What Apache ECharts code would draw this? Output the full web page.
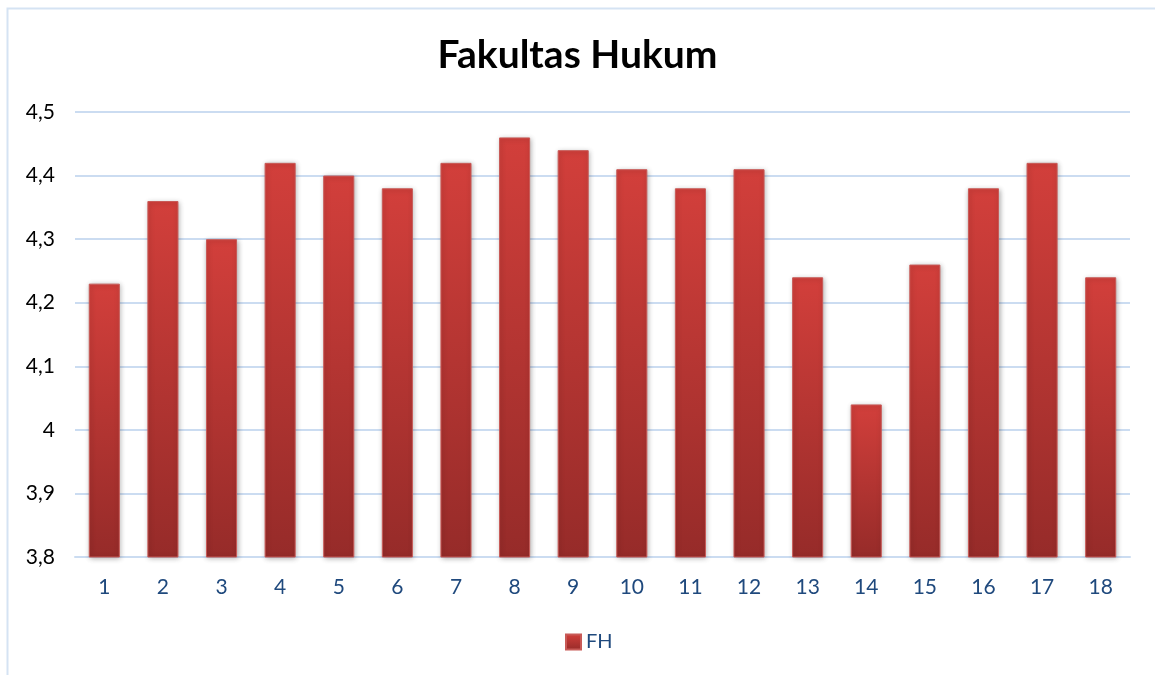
<!DOCTYPE html>
<html><head><meta charset="utf-8">
<script src="https://cdn.jsdelivr.net/npm/echarts@6/dist/echarts.min.js"></script>
<style>html,body{margin:0;padding:0;background:#fff}#c{width:1155px;height:675px}</style>
</head><body><div id="c"></div>
<script>
const categories = ['1','2','3','4','5','6','7','8','9','10','11','12','13','14','15','16','17','18'];
const fhValues = [4.23,4.36,4.30,4.42,4.40,4.38,4.42,4.46,4.44,4.41,4.38,4.41,4.24,4.04,4.26,4.38,4.42,4.24];
const yTicks = {min:3.8, max:4.5, interval:0.1};
const chart = echarts.init(document.getElementById('c'));
const FONT = 'Lato, "Open Sans", sans-serif';
chart.setOption({
  animation:false,
  backgroundColor:'#fff',
  graphic:[{type:'rect',shape:{x:7.5,y:8.5,width:1200,height:700},style:{fill:'none',stroke:'#D5E3F3',lineWidth:2}}],
  title:{text:'Fakultas Hukum',left:'center',top:31,textStyle:{fontFamily:FONT,fontSize:39,fontWeight:'bold',color:'#000'}},
  legend:{bottom:18,left:560,icon:'rect',itemWidth:15,itemHeight:15,itemGap:6,
    textStyle:{fontFamily:FONT,fontSize:20,color:'#1F497D'},data:['FH']},
  grid:{left:75,right:25,top:112,bottom:118},
  xAxis:{type:'category',data:categories,
    axisLine:{lineStyle:{color:'#CBDCF1',width:2}},axisTick:{show:false},
    axisLabel:{fontFamily:FONT,fontSize:21,color:'#1F497D',margin:20}},
  yAxis:{type:'value',min:yTicks.min,max:yTicks.max,interval:yTicks.interval,
    axisLine:{show:false},axisTick:{show:false},
    splitLine:{lineStyle:{color:'#CBDCF1',width:2}},
    axisLabel:{fontFamily:FONT,fontSize:21,color:'#000',margin:20,
      formatter:v=>{const r=Math.round(v*10)/10;return (r%1===0?String(r):r.toFixed(1)).replace('.',',');}}},
  series:[{name:'FH',type:'bar',data:fhValues,barWidth:'53%',
    itemStyle:{color:new echarts.graphic.LinearGradient(0,0,0,1,[{offset:0,color:'#D23F3B'},{offset:1,color:'#962B29'}]),
      borderColor:'#C85A57',borderWidth:1,
      shadowColor:'rgba(0,0,0,0.3)',shadowBlur:5,shadowOffsetX:1,shadowOffsetY:1}}]
});
</script></body></html>
